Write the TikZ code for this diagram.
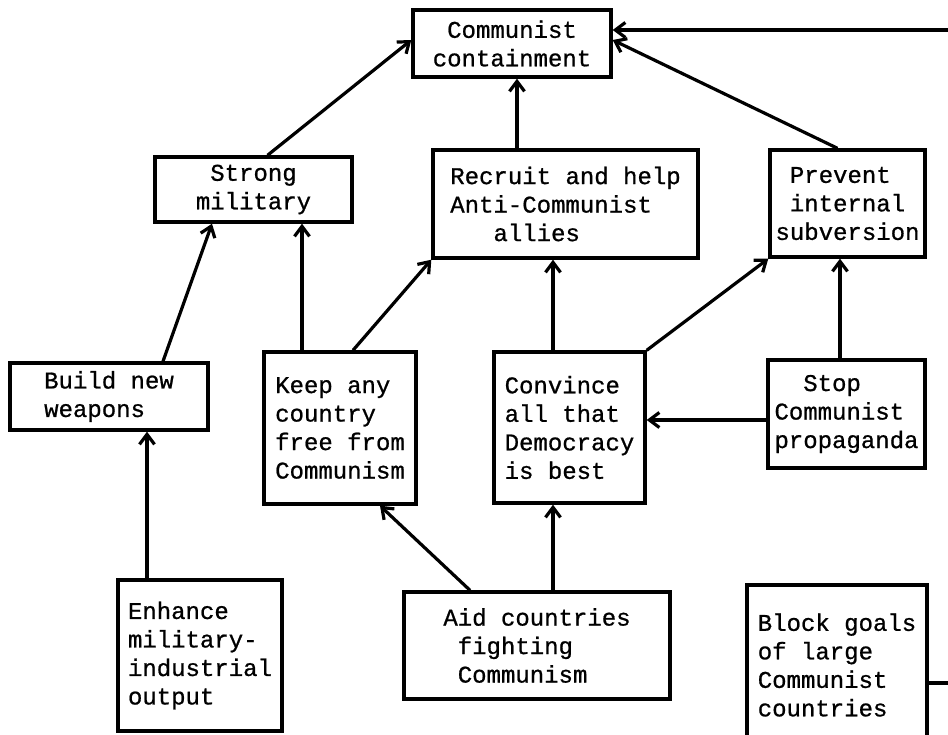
\documentclass[tikz,border=0pt]{standalone}
\usepackage{fontspec}
\setmonofont{Liberation Mono}[FakeBold=0.8]
\usepackage{tikz}
\usetikzlibrary{arrows.meta}

\begin{document}
\begin{tikzpicture}[x=1pt,y=-1pt,
		box/.style={draw,line width=3.4pt,inner sep=0pt,font=\ttfamily\fontsize{24}{28.5}\selectfont},
		link/.style={line width=3.2pt,-{Straight Barb[length=10pt,width=15pt]}}]
			\useasboundingbox[fill=white] (0,0) rectangle (948,734);
			% boxes
			\node[box,align=center,minimum width=198,minimum height=67] (cc) at (512,43.5) {Communist\\containment};
			\node[box,align=center,minimum width=197,minimum height=65] (sm) at (253.5,189.5) {Strong\\military};
			\node[box,align=left,minimum width=265,minimum height=108] (ra) at (565.5,204) {Recruit and help\\Anti-Communist\\\hphantom{xxx}allies};
			\node[box,align=left,minimum width=155,minimum height=107] (pi) at (847.5,203.5) {\hphantom{x}Prevent\\\hphantom{x}internal\\subversion};
			\node[box,align=left,minimum width=198,minimum height=67] (bw) at (109,396.5) {Build new\\weapons};
			\node[box,align=left,minimum width=152,minimum height=152] (kc) at (340,428) {Keep any\\country\\free from\\Communism};
			\node[box,align=left,minimum width=151,minimum height=151] (cd) at (569.5,427.5) {Convince\\all that\\Democracy\\is best};
			\node[box,align=left,minimum width=157,minimum height=108] (sp) at (846.5,414) {\hphantom{xx}Stop\\Communist\\propaganda};
			\node[box,align=left,minimum width=164,minimum height=151] (em) at (200,655.5) {Enhance\\military-\\industrial\\output};
			\node[box,align=left,minimum width=266,minimum height=107] (ac) at (537,645.5) {Aid countries\\\hphantom{x}fighting\\\hphantom{x}Communism};
			\node[box,align=left,minimum width=180,minimum height=160] (bg) at (837,665) {Block goals\\of large\\Communist\\countries};
			\coordinate (fromright) at (948,30);
			% links into the top box
			\draw[link] ([xshift=14]sm.north) -- ([yshift=3.5]cc.west);
			\draw[link] ([xshift=5]cc.south |- ra.north) -- ([xshift=5]cc.south);
			\draw[link] ([xshift=-10]pi.north) -- ([yshift=3.5]cc.east);
			\draw[link] (fromright) -- (fromright -| cc.east);
			% middle row
			\draw[link] ([xshift=54]bw.north) -- ([xshift=-41.5]sm.south);
			\draw[link] ([xshift=-38]kc.north) -- ([xshift=-38]kc.north |- sm.south);
			\draw[link] ([xshift=13]kc.north) -- (ra.south west);
			\draw[link] ([xshift=-16.5]cd.north) -- ([xshift=-16.5]cd.north |- ra.south);
			\draw[link] (cd.north east) -- (pi.south west);
			\draw[link] ([xshift=-6.5]sp.north) -- ([xshift=-6.5]sp.north |- pi.south);
			\draw[link] ([yshift=-6]sp.west) -- ([yshift=-6]sp.west -| cd.east);
			% bottom row
			\draw[link] ([xshift=-53]em.north) -- ([xshift=-53]em.north |- bw.south);
			\draw[link] ([xshift=-67]ac.north) -- ([xshift=40]kc.south);
			\draw[link] ([xshift=16]ac.north) -- ([xshift=16]ac.north |- cd.south);
			\draw[line width=3.2pt] ([yshift=-18]bg.east) -- ([yshift=-18]bg.east -| fromright);
		\end{tikzpicture}
\end{document}
